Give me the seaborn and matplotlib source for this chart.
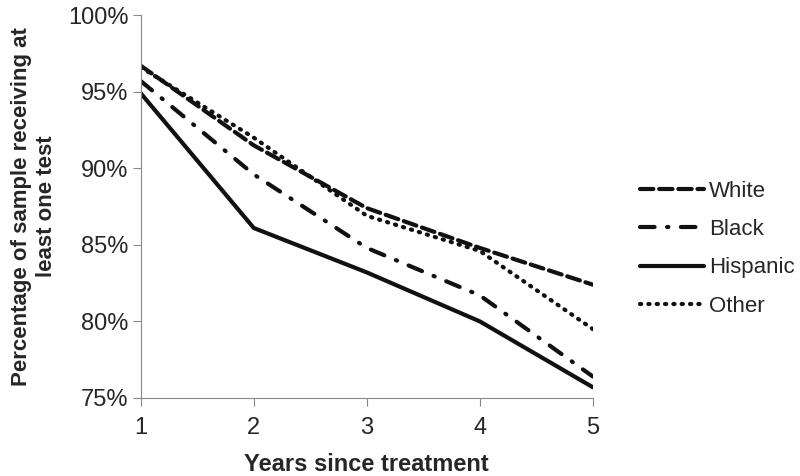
import numpy as np
import pandas as pd
import seaborn as sns
import matplotlib.pyplot as plt

# Data (percent of sample receiving at least one test)
years = [1, 2, 3, 4, 5]
groups = ["White", "Black", "Hispanic", "Other"]
white = [96.7, 91.5, 87.4, 84.8, 82.4]
black = [95.7, 89.6, 84.8, 81.7, 76.4]
hispanic = [94.9, 86.1, 83.2, 80.0, 75.7]
other = [96.6, 92.0, 86.9, 84.6, 79.5]

df = pd.DataFrame({
    "Year": years * 4,
    "Group": np.repeat(groups, len(years)),
    "Pct": white + black + hispanic + other,
})

sns.set_style("ticks")
plt.rcParams["font.family"] = ["Liberation Sans", "DejaVu Sans"]

dashes = {
    "White": (3.2, 1.4),
    "Black": (3.5, 3, 0.3, 3),
    "Hispanic": "",
    "Other": (0.3, 1.7),
}

fig, ax = plt.subplots(figsize=(8, 4.76), dpi=100)
fig.subplots_adjust(left=0.176, right=0.741, bottom=0.164, top=0.968)

sns.lineplot(data=df, x="Year", y="Pct", hue="Group", style="Group",
             hue_order=groups, style_order=groups,
             palette=["#111111"] * 4, dashes=dashes, linewidth=3,
             ax=ax)
for ln in ax.get_lines():
    ln.set_dash_capstyle("round")

ax.set_xlim(1, 5)
ax.set_ylim(75, 100)
ax.set_xticks(years)
ax.set_yticks([75, 80, 85, 90, 95, 100])
ax.set_yticklabels([f"{v}%" for v in [75, 80, 85, 90, 95, 100]])
ax.tick_params(labelsize=17, color="#888888", length=6, width=0.8)
ax.tick_params(axis="x", pad=8)
ax.tick_params(axis="y", pad=3)

sns.despine(ax=ax)
for sp in ["left", "bottom"]:
    ax.spines[sp].set_color("#888888")
    ax.spines[sp].set_linewidth(0.8)

ax.set_xlabel("Years since treatment", fontsize=17, fontweight="bold",
              labelpad=10)
ax.set_ylabel("Percentage of sample receiving at\nleast one test",
              fontsize=16, fontweight="bold", labelpad=8)

handles, labels = ax.get_legend_handles_labels()
ax.legend(handles, labels, loc="center left", bbox_to_anchor=(1.06, 0.39),
          frameon=False, fontsize=16, handlelength=2.9, handletextpad=0.2,
          labelspacing=0.78)

fig.savefig("out.png", dpi=100)
